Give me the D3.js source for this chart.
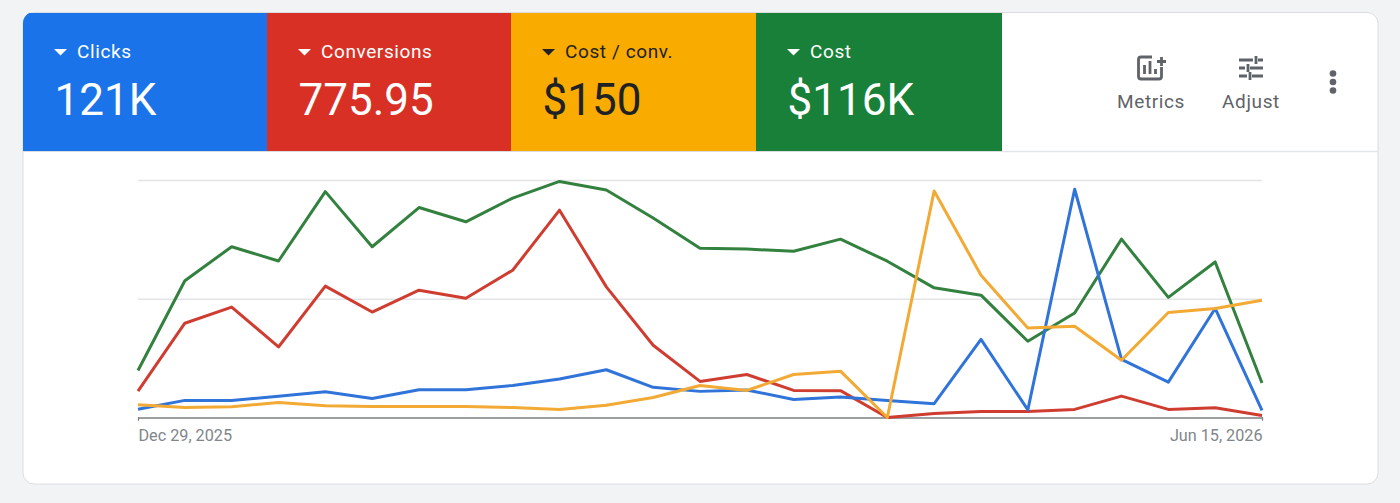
<!DOCTYPE html>
<html>
<head>
<meta charset="utf-8">
<script src="https://cdn.jsdelivr.net/npm/d3@7"></script>
<style>
  html, body { margin: 0; padding: 0; background: #f1f3f4; }
  svg { display: block; }
  text { font-family: Roboto, "Noto Sans", sans-serif; }
</style>
</head>
<body>
<script>
const weeks = ["2025-12-29","2026-01-05","2026-01-12","2026-01-19","2026-01-26","2026-02-02","2026-02-09","2026-02-16","2026-02-23",
  "2026-03-02","2026-03-09","2026-03-16","2026-03-23","2026-03-30","2026-04-06","2026-04-13","2026-04-20","2026-04-27","2026-05-04",
  "2026-05-11","2026-05-18","2026-05-25","2026-06-01","2026-06-08","2026-06-15"]

// every metric has its own hidden axis in the original, so these are % of chart height
const clicks = [3.5,7.2,7.2,8.9,10.8,8.0,11.7,11.7,13.5,16.2,20.1,12.7,11.0,11.6,7.6,8.6,7.2,5.8,32.9,3.2,96.1,24.5,14.9,45.9,3.0]
const conversions = [11.1,39.7,46.5,29.7,55.3,44.4,53.6,50.2,62.0,87.3,55.0,30.4,15.2,18.1,11.4,11.3,0,1.7,2.5,2.5,3.4,9.0,3.4,4.1,0.8]
const costPerConv = [5.4,4.2,4.5,6.3,4.9,4.6,4.6,4.6,4.2,3.4,5.2,8.4,13.5,11.4,18.1,19.5,0,95.4,59.9,37.7,38.4,24.1,44.2,45.9,49.4]
const cost = [19.8,57.6,71.9,65.9,95.1,71.9,88.4,82.4,92.4,99.4,95.8,84.0,71.3,70.9,70.0,75.1,65.8,54.6,51.5,32.1,44.0,75.1,50.6,65.5,14.5]

const gridValues = [0, 50, 100]
const tileNames = ["Clicks", "Conversions", "Cost / conv.", "Cost"]
const tileValues = ["121K", "775.95", "$150", "$116K"]
const tileColors = ["#1a73e8", "#d93025", "#f9ab00", "#188038"]
const tileText = ["#ffffff", "#ffffff", "#202124", "#ffffff"]
const lineColors = ["#3074d9", "#cf3d31", "#f2aa35", "#33813f"]
const drawOrder = [cost, conversions, clicks, costPerConv]
const drawColors = [lineColors[3], lineColors[1], lineColors[0], lineColors[2]]

const width = 1400, height = 503
const svg = d3.select("body").append("svg").attr("width", width).attr("height", height)

const card = { x: 23, y: 12.5, w: 1355, h: 471.5, r: 11 }
svg.append("rect")
  .attr("x", card.x).attr("y", card.y).attr("width", card.w).attr("height", card.h)
  .attr("rx", card.r).attr("fill", "#fff").attr("stroke", "#dadce0")

// tiles are not quite equal in the original
const tileEdges = [23, 267, 511, 756, 1002]

const tiles = svg.selectAll("g.tile").data(tileNames).join("g")
  .attr("class", "tile")
  .attr("transform", (d, i) => `translate(${tileEdges[i]},13)`)

tiles.append("rect")
  .attr("width", (d, i) => tileEdges[i + 1] - tileEdges[i]).attr("height", 138)
  .attr("fill", (d, i) => tileColors[i])

tiles.append("path")
  .attr("d", "M31,36 L44,36 L37.5,42.5 Z")
  .attr("fill", (d, i) => tileText[i])

tiles.append("text")
  .attr("x", 54).attr("y", 45)
  .attr("font-size", 19).attr("letter-spacing", 0.6)
  .attr("fill", (d, i) => tileText[i])
  .text(d => d)

tiles.append("text")
  .attr("x", 31.5).attr("y", 102)
  .attr("font-size", 44)
  .attr("fill", (d, i) => tileText[i])
  .text((d, i) => tileValues[i])

// round off the top left corner of the first tile
svg.append("path")
  .attr("d", `M23,12 H${23 + card.r} A${card.r},${card.r} 0 0 0 23,${12 + card.r} Z`)
  .attr("fill", "#f1f3f4")

svg.append("line").attr("x1", 1002).attr("x2", 1378).attr("y1", 151.5).attr("y2", 151.5).attr("stroke", "#e3e5e8").attr("stroke-width", 1.5)
svg.append("line").attr("x1", 23).attr("x2", 1002).attr("y1", 151.5).attr("y2", 151.5).attr("stroke", "#dadce0")

// toolbar
const tool = svg.append("g").attr("fill", "none").attr("stroke", "#5f6368").attr("stroke-width", 2.8)
tool.append("path").attr("d", "M1152,57 H1141 Q1138.5,57 1138.5,59.5 V76.5 Q1138.5,79 1141,79 H1159 Q1161.500,79 1161.500,76.5 V67")
tool.append("path").attr("d", "M1144.5,74 V65 M1150,74 V61 M1155.5,74 V69 M1157,61.500 H1166 M1161.500,57 V66")
tool.append("path").attr("d", "M1239,60 H1253 M1258,60 H1263 M1256,56 V64 M1239,68 H1245 M1250,68 H1263 M1248,64 V72 M1239,76 H1247 M1252,76 H1263 M1250,72 V80")

const toolLabels = [["Metrics", 1151], ["Adjust", 1251]]
svg.selectAll("text.tool").data(toolLabels).join("text")
  .attr("class", "tool")
  .attr("x", d => d[1]).attr("y", 108)
  .attr("text-anchor", "middle")
  .attr("font-size", 19).attr("letter-spacing", 0.6).attr("fill", "#5f6368")
  .text(d => d[0])

svg.selectAll("circle.dot").data([73.500, 82, 90.500]).join("circle")
  .attr("class", "dot")
  .attr("cx", 1333).attr("cy", d => d).attr("r", 3.3).attr("fill", "#5f6368")

// chart
const parseDay = d3.timeParse("%Y-%m-%d")
const dates = weeks.map(parseDay)
const x = d3.scaleTime().domain(d3.extent(dates)).range([138, 1262])
const y = d3.scaleLinear().domain([0, 100]).range([417.5, 180])

svg.append("g")
  .attr("transform", "translate(138,0)")
  .call(d3.axisRight(y).tickValues(gridValues.slice(1)).tickSize(1124).tickFormat(""))
  .call(g => g.select(".domain").remove())
  .call(g => g.selectAll("line").attr("stroke", "#e2e4e6").attr("stroke-width", 1.3))

const fmtDay = d3.timeFormat("%b %-d, %Y")
svg.append("g")
  .attr("transform", `translate(0,${y(0)})`)
  .call(d3.axisBottom(x).tickValues(d3.extent(dates)).tickSize(3).tickFormat(fmtDay))
  .call(g => g.select(".domain").attr("stroke", "#7c7f83").attr("stroke-width", 1.3))
  .call(g => g.selectAll("line").attr("stroke", "#7c7f83"))
  .call(g => g.selectAll("text")
    .attr("y", 23.5).attr("dy", 0)
    .attr("font-size", 16.2).attr("fill", "#80868b")
    .attr("font-family", "Roboto, sans-serif")
    .attr("text-anchor", (d, i) => i ? "end" : "start"))

const line = d3.line().x((d, i) => x(dates[i])).y(d => y(d))

svg.selectAll("path.series").data(drawOrder).join("path")
  .attr("class", "series")
  .attr("d", line)
  .attr("fill", "none")
  .attr("stroke", (d, i) => drawColors[i])
  .attr("stroke-width", 3)
  .attr("stroke-linejoin", "round")
</script>
</body>
</html>
